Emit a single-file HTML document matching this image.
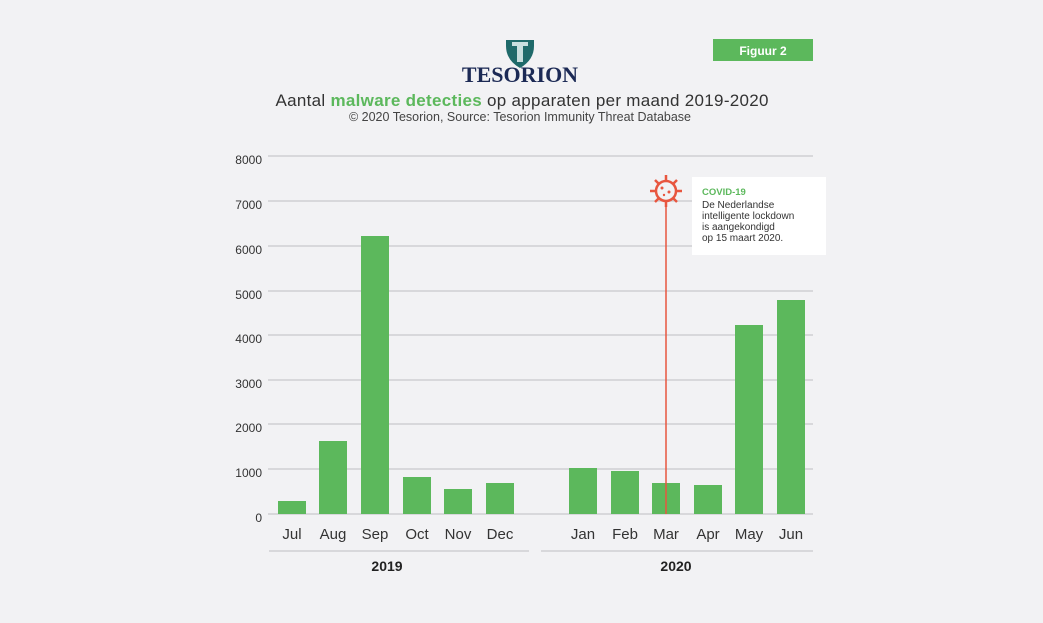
<!DOCTYPE html>
<html><head><meta charset="utf-8"><style>
html,body{margin:0;padding:0;background:#f2f2f4;overflow:hidden;}
</style></head><body>
<svg width="1043" height="623" xmlns="http://www.w3.org/2000/svg" font-family="Liberation Sans, sans-serif" style="display:block">
<rect width="1043" height="623" fill="#f2f2f4"/>
<path d="M506 40 h28 v6 q0 14 -14 22 q-14 -8 -14 -22z" fill="#1f6a6a"/>
<path d="M512 42 h16 v4 h-5 v16 h-6 v-16 h-5z" fill="#c8dede"/>
<text x="520" y="82" text-anchor="middle" font-family="Liberation Serif, serif" font-weight="bold" font-size="22" fill="#1c2a55">TESORION</text>
<rect x="713" y="39" width="100" height="22" fill="#5cb85c"/>
<text x="763" y="55" text-anchor="middle" font-weight="bold" font-size="12" fill="#fff">Figuur 2</text>
<text x="522" y="106" text-anchor="middle" font-size="17" fill="#333" textLength="493" lengthAdjust="spacing">Aantal <tspan font-weight="bold" fill="#5cb85c">malware detecties</tspan> op apparaten per maand 2019-2020</text>
<text x="520" y="121" text-anchor="middle" font-size="12.5" fill="#444">© 2020 Tesorion, Source: Tesorion Immunity Threat Database</text>
<g stroke="#c9c9cc" stroke-width="1.2">
<line x1="268" x2="813" y1="156" y2="156"/><line x1="268" x2="813" y1="201" y2="201"/>
<line x1="268" x2="813" y1="246" y2="246"/><line x1="268" x2="813" y1="291" y2="291"/>
<line x1="268" x2="813" y1="335" y2="335"/><line x1="268" x2="813" y1="380" y2="380"/>
<line x1="268" x2="813" y1="424" y2="424"/><line x1="268" x2="813" y1="469" y2="469"/>
<line x1="268" x2="813" y1="514" y2="514"/>
<line x1="269" x2="529" y1="551" y2="551"/><line x1="541" x2="813" y1="551" y2="551"/>
</g>
<g font-size="12" fill="#333" text-anchor="end">
<text x="262" y="164">8000</text><text x="262" y="209">7000</text><text x="262" y="254">6000</text>
<text x="262" y="299">5000</text><text x="262" y="343">4000</text><text x="262" y="388">3000</text>
<text x="262" y="432">2000</text><text x="262" y="477">1000</text><text x="262" y="522">0</text>
</g>
<g fill="#5cb85c">
<rect x="278" y="501" width="28" height="13"/><rect x="319" y="441" width="28" height="73"/>
<rect x="361" y="236" width="28" height="278"/><rect x="403" y="477" width="28" height="37"/>
<rect x="444" y="489" width="28" height="25"/><rect x="486" y="483" width="28" height="31"/>
<rect x="569" y="468" width="28" height="46"/><rect x="611" y="471" width="28" height="43"/>
<rect x="652" y="483" width="28" height="31"/><rect x="694" y="485" width="28" height="29"/>
<rect x="735" y="325" width="28" height="189"/><rect x="777" y="300" width="28" height="214"/>
</g>
<g font-size="15" fill="#333" text-anchor="middle">
<text x="292" y="539">Jul</text><text x="333" y="539">Aug</text><text x="375" y="539">Sep</text>
<text x="417" y="539">Oct</text><text x="458" y="539">Nov</text><text x="500" y="539">Dec</text>
<text x="583" y="539">Jan</text><text x="625" y="539">Feb</text><text x="666" y="539">Mar</text>
<text x="708" y="539">Apr</text><text x="749" y="539">May</text><text x="791" y="539">Jun</text>
</g>
<text x="387" y="571" text-anchor="middle" font-weight="bold" font-size="14" fill="#222">2019</text>
<text x="676" y="571" text-anchor="middle" font-weight="bold" font-size="14" fill="#222">2020</text>
<line x1="666" x2="666" y1="200" y2="514" stroke="#e8563f" stroke-width="1.5"/>
<g stroke="#e8563f" stroke-width="2.5" fill="none">
<circle cx="666" cy="191" r="10"/>
<path d="M666 175v6M666 201v6M650 191h6M676 191h6M655 180l4 4M673 198l4 4M677 180l-4 4M659 198l-4 4"/>
</g>
<g fill="#e8563f"><circle cx="662" cy="188" r="1.5"/><circle cx="669" cy="192" r="1.5"/><circle cx="664" cy="195" r="1.2"/></g>
<rect x="692" y="177" width="134" height="78" fill="#fff"/>
<text x="702" y="195" font-weight="bold" font-size="9.5" fill="#5cb85c">COVID-19</text>
<g font-size="10" fill="#333"><text x="702" y="208">De Nederlandse</text><text x="702" y="219">intelligente lockdown</text>
<text x="702" y="230">is aangekondigd</text><text x="702" y="241">op 15 maart 2020.</text></g>
</svg>
</body></html>
